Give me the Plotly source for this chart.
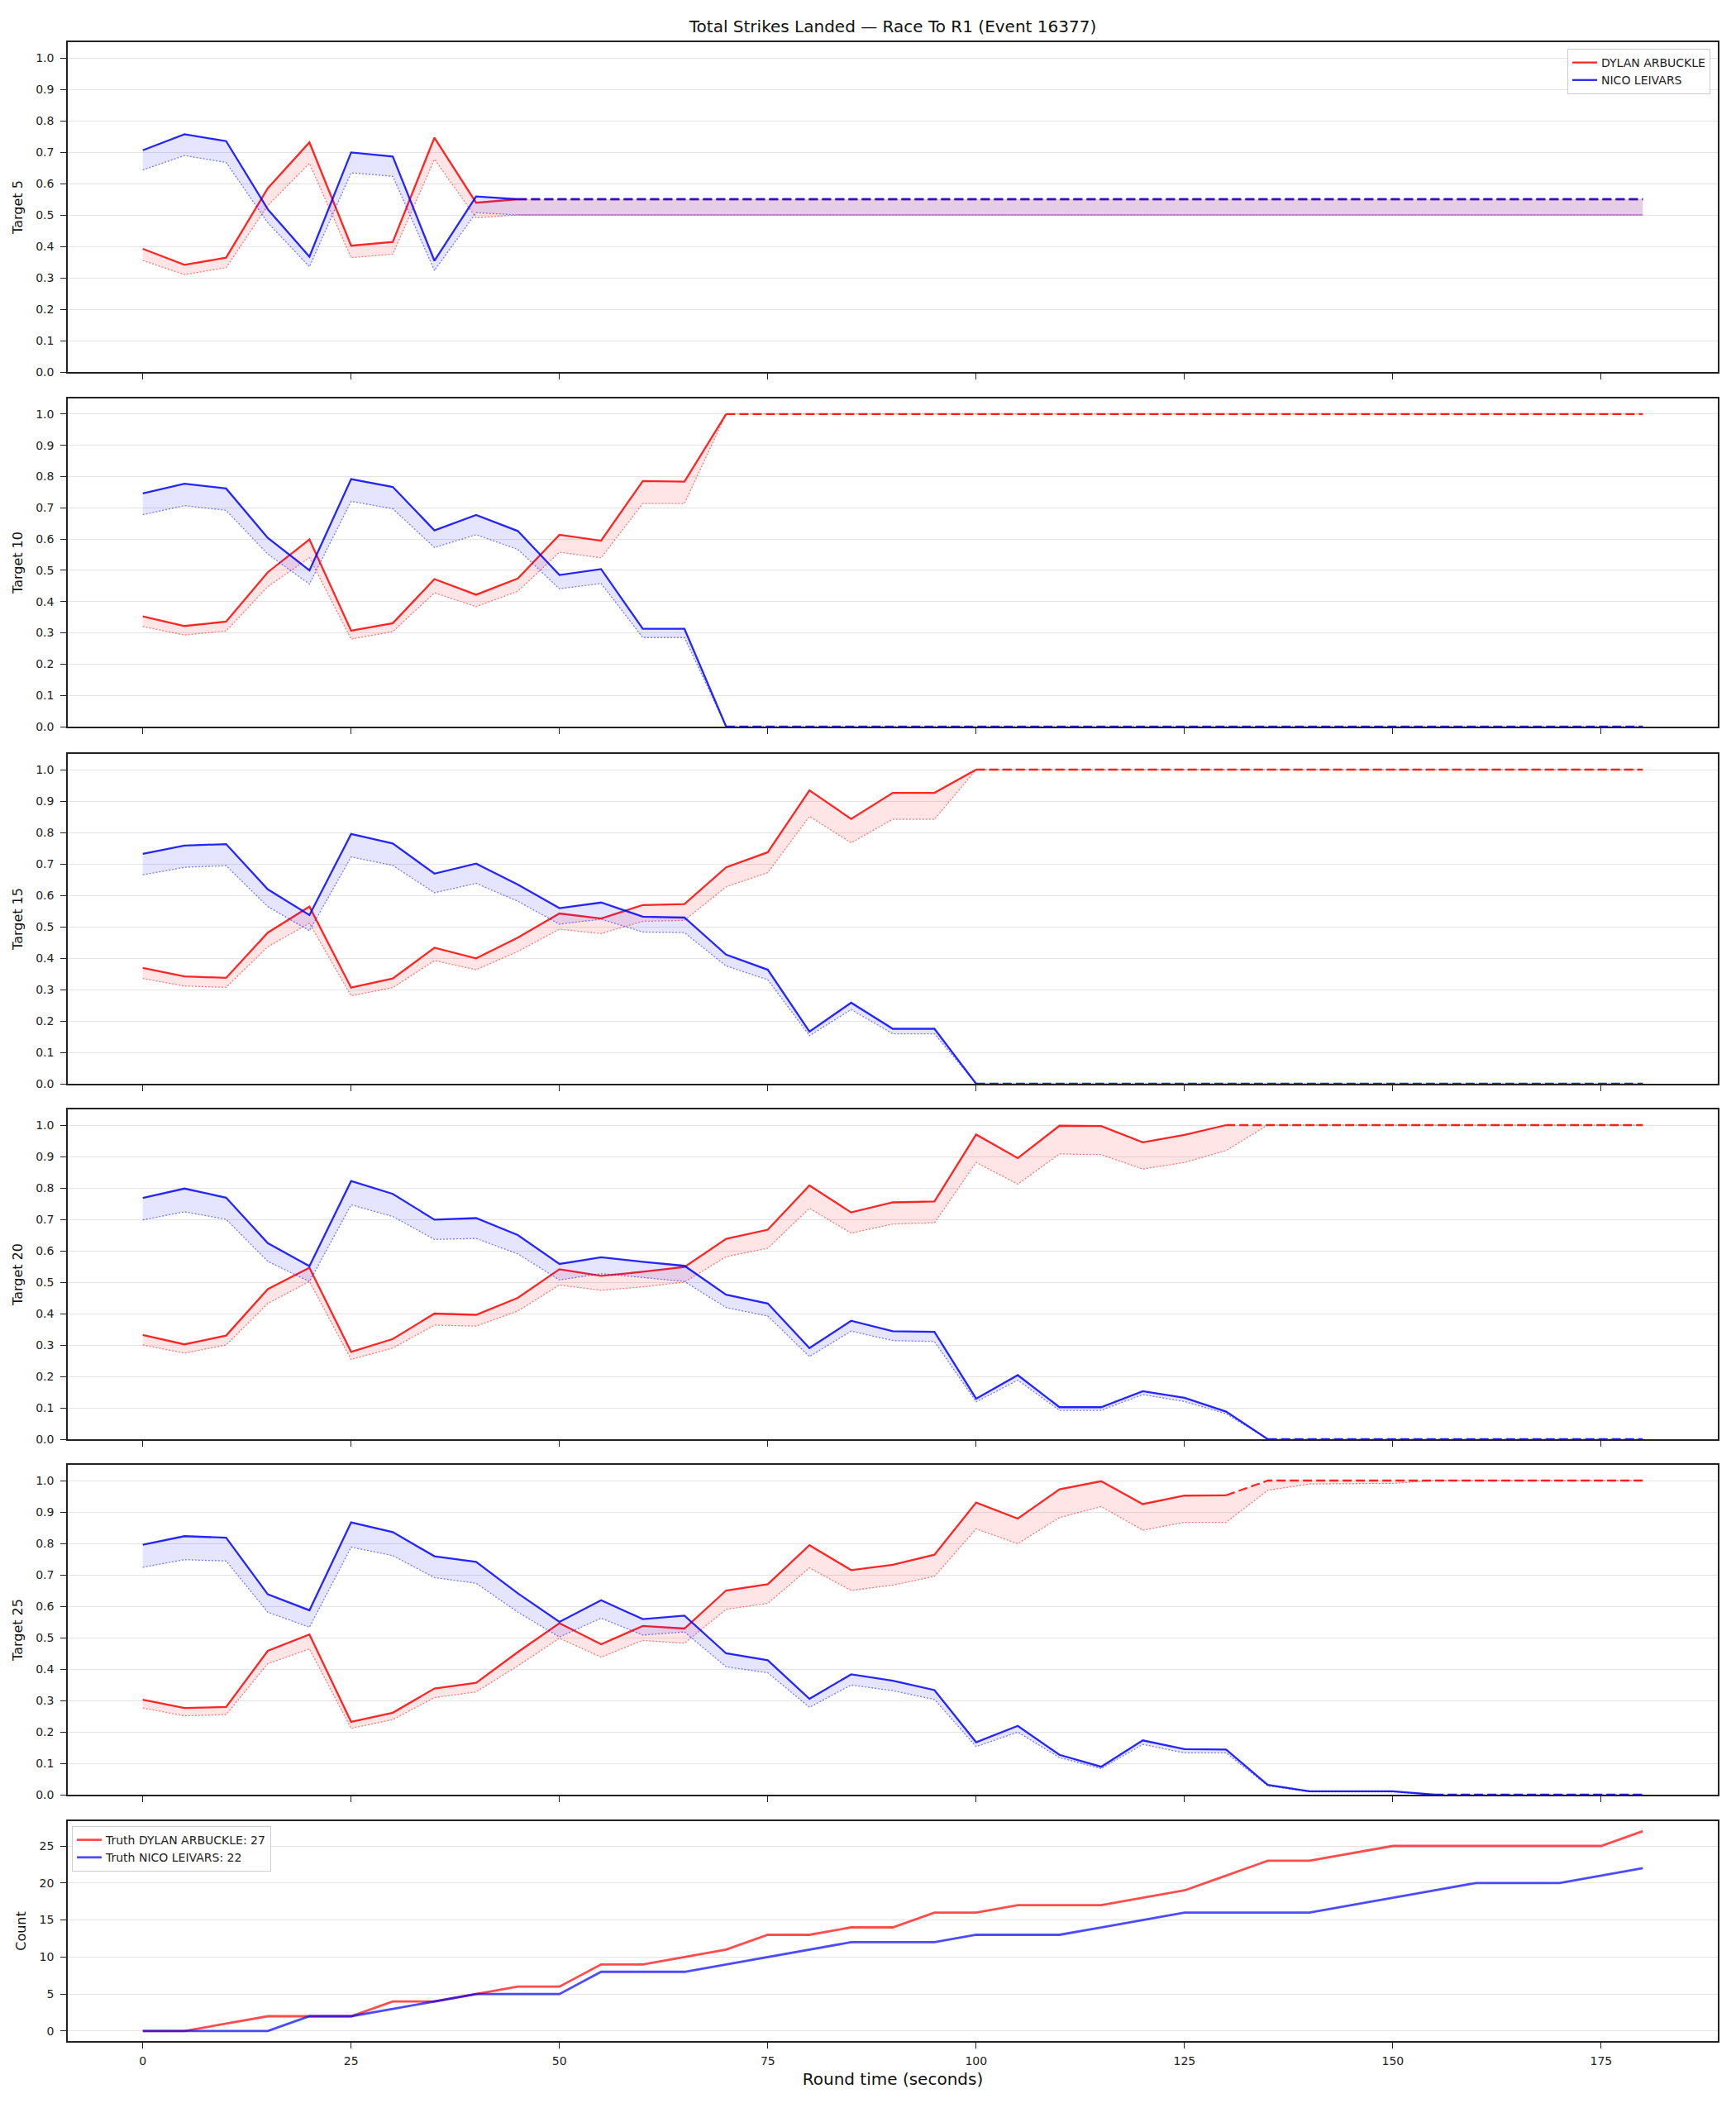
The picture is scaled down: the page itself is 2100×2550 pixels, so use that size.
import plotly.graph_objects as go

# ---------------- data ----------------
times = [0, 5, 10, 15, 20, 25, 30, 35, 40, 45, 50, 55, 60, 65, 70, 75, 80, 85, 90,
         95, 100, 105, 110, 115, 120, 125, 130, 135, 140, 145, 150, 155, 160, 165,
         170, 175, 180]

fighter_names = ["DYLAN ARBUCKLE", "NICO LEIVARS"]
targets = [5, 10, 15, 20, 25]

# Target 5
t5_red_hi = [0.392, 0.341, 0.364, 0.585, 0.731, 0.402, 0.414, 0.746, 0.539,
             0.55, 0.55, 0.55, 0.55, 0.55, 0.55, 0.55, 0.55, 0.55, 0.55, 0.55, 0.55, 0.55, 0.55,
             0.55, 0.55, 0.55, 0.55, 0.55, 0.55, 0.55, 0.55, 0.55, 0.55, 0.55, 0.55, 0.55, 0.55]
t5_red_lo = [0.355, 0.310, 0.332, 0.530, 0.664, 0.364, 0.375, 0.677, 0.491,
             0.50, 0.50, 0.50, 0.50, 0.50, 0.50, 0.50, 0.50, 0.50, 0.50, 0.50, 0.50, 0.50, 0.50,
             0.50, 0.50, 0.50, 0.50, 0.50, 0.50, 0.50, 0.50, 0.50, 0.50, 0.50, 0.50, 0.50, 0.50]
t5_blue_hi = [0.706, 0.757, 0.735, 0.518, 0.367, 0.699, 0.686, 0.354, 0.559,
              0.55, 0.55, 0.55, 0.55, 0.55, 0.55, 0.55, 0.55, 0.55, 0.55, 0.55, 0.55, 0.55, 0.55,
              0.55, 0.55, 0.55, 0.55, 0.55, 0.55, 0.55, 0.55, 0.55, 0.55, 0.55, 0.55, 0.55, 0.55]
t5_blue_lo = [0.643, 0.689, 0.667, 0.475, 0.335, 0.634, 0.623, 0.323, 0.507,
              0.50, 0.50, 0.50, 0.50, 0.50, 0.50, 0.50, 0.50, 0.50, 0.50, 0.50, 0.50, 0.50, 0.50,
              0.50, 0.50, 0.50, 0.50, 0.50, 0.50, 0.50, 0.50, 0.50, 0.50, 0.50, 0.50, 0.50, 0.50]

# Target 10
t10_red_hi = [0.353, 0.322, 0.336, 0.494, 0.599, 0.307, 0.331, 0.472, 0.422, 0.474,
              0.614, 0.595, 0.786, 0.784, 1.0,
              1.0, 1.0, 1.0, 1.0, 1.0, 1.0, 1.0, 1.0, 1.0, 1.0, 1.0,
              1.0, 1.0, 1.0, 1.0, 1.0, 1.0, 1.0, 1.0, 1.0, 1.0, 1.0]
t10_red_lo = [0.320, 0.293, 0.306, 0.448, 0.540, 0.280, 0.304, 0.428, 0.384, 0.433,
              0.558, 0.540, 0.714, 0.714, 1.0,
              1.0, 1.0, 1.0, 1.0, 1.0, 1.0, 1.0, 1.0, 1.0, 1.0, 1.0,
              1.0, 1.0, 1.0, 1.0, 1.0, 1.0, 1.0, 1.0, 1.0, 1.0, 1.0]
t10_blue_hi = [0.746, 0.777, 0.762, 0.604, 0.500, 0.792, 0.767, 0.628, 0.677, 0.626,
               0.485, 0.504, 0.313, 0.313, 0.0,
               0.0, 0.0, 0.0, 0.0, 0.0, 0.0, 0.0, 0.0, 0.0, 0.0, 0.0,
               0.0, 0.0, 0.0, 0.0, 0.0, 0.0, 0.0, 0.0, 0.0, 0.0, 0.0]
t10_blue_lo = [0.678, 0.707, 0.692, 0.552, 0.456, 0.721, 0.697, 0.573, 0.614, 0.567,
               0.441, 0.458, 0.285, 0.285, 0.0,
               0.0, 0.0, 0.0, 0.0, 0.0, 0.0, 0.0, 0.0, 0.0, 0.0, 0.0,
               0.0, 0.0, 0.0, 0.0, 0.0, 0.0, 0.0, 0.0, 0.0, 0.0, 0.0]

# Target 15
t15_red_hi = [0.369, 0.342, 0.337, 0.481, 0.564, 0.306, 0.335, 0.433, 0.399, 0.465,
              0.542, 0.526, 0.569, 0.572, 0.689, 0.737, 0.934, 0.843, 0.926, 0.926, 1.0,
              1.0, 1.0, 1.0, 1.0, 1.0, 1.0, 1.0, 1.0,
              1.0, 1.0, 1.0, 1.0, 1.0, 1.0, 1.0, 1.0]
t15_red_lo = [0.335, 0.311, 0.307, 0.436, 0.511, 0.280, 0.306, 0.392, 0.363, 0.421,
              0.492, 0.478, 0.517, 0.520, 0.627, 0.672, 0.851, 0.767, 0.842, 0.842, 1.0,
              1.0, 1.0, 1.0, 1.0, 1.0, 1.0, 1.0, 1.0,
              1.0, 1.0, 1.0, 1.0, 1.0, 1.0, 1.0, 1.0]
t15_blue_hi = [0.732, 0.758, 0.763, 0.619, 0.537, 0.795, 0.765, 0.669, 0.701, 0.634,
               0.559, 0.577, 0.532, 0.529, 0.411, 0.363, 0.166, 0.258, 0.175, 0.175, 0.0,
               0.0, 0.0, 0.0, 0.0, 0.0, 0.0, 0.0, 0.0,
               0.0, 0.0, 0.0, 0.0, 0.0, 0.0, 0.0, 0.0]
t15_blue_lo = [0.665, 0.689, 0.694, 0.564, 0.487, 0.722, 0.695, 0.608, 0.638, 0.581,
               0.508, 0.524, 0.483, 0.481, 0.375, 0.331, 0.153, 0.236, 0.159, 0.159, 0.0,
               0.0, 0.0, 0.0, 0.0, 0.0, 0.0, 0.0, 0.0,
               0.0, 0.0, 0.0, 0.0, 0.0, 0.0, 0.0, 0.0]

# Target 20
t20_red_hi = [0.332, 0.302, 0.330, 0.478, 0.546, 0.278, 0.319, 0.400, 0.396, 0.450,
              0.541, 0.520, 0.533, 0.548, 0.638, 0.667, 0.808, 0.722, 0.754, 0.757,
              0.970, 0.895, 0.998, 0.997, 0.945, 0.969, 1.0, 1.0,
              1.0, 1.0, 1.0, 1.0, 1.0, 1.0, 1.0, 1.0, 1.0]
t20_red_lo = [0.300, 0.274, 0.300, 0.432, 0.502, 0.254, 0.290, 0.363, 0.360, 0.408,
              0.491, 0.474, 0.485, 0.500, 0.581, 0.608, 0.735, 0.656, 0.685, 0.689,
              0.881, 0.812, 0.908, 0.906, 0.860, 0.881, 0.919, 1.0,
              1.0, 1.0, 1.0, 1.0, 1.0, 1.0, 1.0, 1.0, 1.0]
t20_blue_hi = [0.768, 0.798, 0.769, 0.624, 0.551, 0.822, 0.781, 0.699, 0.704, 0.650,
               0.558, 0.579, 0.565, 0.552, 0.460, 0.432, 0.290, 0.377, 0.344, 0.342,
               0.129, 0.204, 0.102, 0.102, 0.153, 0.132, 0.088, 0.0,
               0.0, 0.0, 0.0, 0.0, 0.0, 0.0, 0.0, 0.0, 0.0]
t20_blue_lo = [0.698, 0.724, 0.700, 0.566, 0.502, 0.746, 0.709, 0.636, 0.639, 0.590,
               0.507, 0.527, 0.515, 0.502, 0.419, 0.392, 0.263, 0.344, 0.314, 0.311,
               0.119, 0.188, 0.092, 0.092, 0.142, 0.120, 0.081, 0.0,
               0.0, 0.0, 0.0, 0.0, 0.0, 0.0, 0.0, 0.0, 0.0]

# Target 25
t25_red_hi = [0.302, 0.276, 0.279, 0.458, 0.510, 0.232, 0.261, 0.338, 0.356, 0.454,
              0.546, 0.479, 0.537, 0.529, 0.650, 0.670, 0.794, 0.715, 0.732, 0.764,
              0.930, 0.879, 0.972, 0.998, 0.925, 0.952, 0.953, 1.0, 1.0, 1.0, 1.0, 1.0,
              1.0, 1.0, 1.0, 1.0, 1.0]
t25_red_lo = [0.276, 0.251, 0.255, 0.417, 0.464, 0.211, 0.239, 0.309, 0.327, 0.410,
              0.498, 0.438, 0.491, 0.482, 0.590, 0.609, 0.722, 0.650, 0.667, 0.695,
              0.846, 0.799, 0.882, 0.917, 0.842, 0.867, 0.867, 0.969, 0.989, 0.990, 0.991, 1.0,
              1.0, 1.0, 1.0, 1.0, 1.0]
t25_blue_hi = [0.796, 0.823, 0.818, 0.638, 0.587, 0.867, 0.836, 0.759, 0.741, 0.641,
               0.550, 0.619, 0.559, 0.570, 0.450, 0.428, 0.305, 0.383, 0.363, 0.333,
               0.167, 0.219, 0.127, 0.089, 0.173, 0.145, 0.144, 0.031, 0.011, 0.011, 0.011, 0.0,
               0.0, 0.0, 0.0, 0.0, 0.0]
t25_blue_lo = [0.724, 0.748, 0.744, 0.581, 0.533, 0.788, 0.761, 0.691, 0.673, 0.581,
               0.502, 0.562, 0.508, 0.518, 0.407, 0.388, 0.278, 0.349, 0.331, 0.303,
               0.153, 0.199, 0.118, 0.083, 0.160, 0.133, 0.133, 0.028, 0.009, 0.009, 0.009, 0.0,
               0.0, 0.0, 0.0, 0.0, 0.0]

# index (into times) from which each fighter's line becomes dashed (settled)
settle_red = [9, 14, 20, 26, 26]
settle_blue = [9, 14, 20, 27, 31]

# Truth counts
truth_red = [0, 0, 1, 2, 2, 2, 4, 4, 5, 6, 6, 9, 9, 10, 11, 13, 13, 14, 14, 16, 16,
             17, 17, 17, 18, 19, 21, 23, 23, 24, 25, 25, 25, 25, 25, 25, 27]
truth_blue = [0, 0, 0, 0, 2, 2, 3, 4, 5, 5, 5, 8, 8, 8, 9, 10, 11, 12, 12, 12, 13,
              13, 13, 14, 15, 16, 16, 16, 16, 17, 18, 19, 20, 20, 20, 21, 22]

x_ticks = [0, 25, 50, 75, 100, 125, 150, 175]
prob_ticks = [0.0, 0.1, 0.2, 0.3, 0.4, 0.5, 0.6, 0.7, 0.8, 0.9, 1.0]
count_ticks = [0, 5, 10, 15, 20, 25]

panel_data = [
    (t5_red_hi, t5_red_lo, t5_blue_hi, t5_blue_lo),
    (t10_red_hi, t10_red_lo, t10_blue_hi, t10_blue_lo),
    (t15_red_hi, t15_red_lo, t15_blue_hi, t15_blue_lo),
    (t20_red_hi, t20_red_lo, t20_blue_hi, t20_blue_lo),
    (t25_red_hi, t25_red_lo, t25_blue_hi, t25_blue_lo),
]
for arrs in panel_data:
    for a in arrs:
        assert len(a) == len(times), len(a)
assert len(truth_red) == len(times) and len(truth_blue) == len(times)

# ---------------- styling ----------------
FONT = "DejaVu Sans"
W, H = 2100, 2550
ML, MR, MT, MB = 82, 22, 51, 81
plot_h = H - MT - MB
bottom_px = H - MB


def py(ypx):
    return (bottom_px - ypx) / plot_h


panel_px = [(51, 450), (482, 879), (912, 1311), (1342, 1741), (1772, 2171), (2203, 2469)]

rgb = {"red": "255,0,0", "blue": "0,0,255"}
line_col = {k: f"rgba({v},0.85)" for k, v in rgb.items()}
dot_col = {k: f"rgba({v},0.5)" for k, v in rgb.items()}
fill_col = {k: f"rgba({v},0.1)" for k, v in rgb.items()}

fig = go.Figure()

for i, tgt in enumerate(targets):
    n = i + 1
    xa = "x" if n == 1 else f"x{n}"
    ya = "y" if n == 1 else f"y{n}"
    red_hi, red_lo, blue_hi, blue_lo = panel_data[i]
    for key, hi, lo, k, name in [("red", red_hi, red_lo, settle_red[i], fighter_names[0]),
                                 ("blue", blue_hi, blue_lo, settle_blue[i], fighter_names[1])]:
        fig.add_trace(go.Scatter(x=times, y=lo, mode="lines", xaxis=xa, yaxis=ya,
                                 line=dict(color=dot_col[key], width=1.3, dash="2px,2px"),
                                 showlegend=False, hoverinfo="skip"))
        fig.add_trace(go.Scatter(x=times, y=hi, mode="lines", xaxis=xa, yaxis=ya,
                                 line=dict(width=0, color=fill_col[key]), fill="tonexty",
                                 fillcolor=fill_col[key], showlegend=False, hoverinfo="skip"))
        fig.add_trace(go.Scatter(x=times[:k + 1], y=hi[:k + 1], mode="lines", xaxis=xa, yaxis=ya,
                                 line=dict(color=line_col[key], width=2.3),
                                 name=name, showlegend=(n == 1), legend="legend"))
        fig.add_trace(go.Scatter(x=times[k:], y=hi[k:], mode="lines", xaxis=xa, yaxis=ya,
                                 line=dict(color=line_col[key], width=2.3, dash="11px,5px"),
                                 showlegend=False))

fig.add_trace(go.Scatter(x=times, y=truth_red, mode="lines", xaxis="x6", yaxis="y6",
                         line=dict(color="rgba(255,0,0,0.7)", width=2.8),
                         name=f"Truth {fighter_names[0]}: {truth_red[-1]}", legend="legend2"))
fig.add_trace(go.Scatter(x=times, y=truth_blue, mode="lines", xaxis="x6", yaxis="y6",
                         line=dict(color="rgba(0,0,255,0.7)", width=2.8),
                         name=f"Truth {fighter_names[1]}: {truth_blue[-1]}", legend="legend2"))

axis_common = dict(showline=True, linecolor="#222222", linewidth=1.6, mirror=True,
                   ticks="outside", ticklen=7, tickwidth=1.3, tickcolor="#222222",
                   tickfont=dict(family=FONT, size=14, color="#222222"), zeroline=False)

layout = dict(
    width=W, height=H,
    margin=dict(l=ML, r=MR, t=MT, b=MB, pad=0),
    paper_bgcolor="white", plot_bgcolor="white",
    font=dict(family=FONT, color="#222222"),
    title=dict(text="Total Strikes Landed — Race To R1 (Event 16377)",
               x=0.5, xref="paper", xanchor="center",
               y=1 - 32 / H, yref="container", yanchor="middle",
               font=dict(family=FONT, size=20, color="#111111")),
    legend=dict(x=(2069 - ML) / (W - ML - MR), xanchor="right", y=py(59), yanchor="top",
                traceorder="normal",
                bgcolor="rgba(255,255,255,0.85)", bordercolor="#cccccc", borderwidth=1,
                font=dict(family=FONT, size=14, color="#222222")),
    legend2=dict(x=(87 - ML) / (W - ML - MR), xanchor="left", y=py(2209), yanchor="top",
                 traceorder="normal",
                 bgcolor="rgba(255,255,255,0.85)", bordercolor="#cccccc", borderwidth=1,
                 font=dict(family=FONT, size=14, color="#222222")),
    showlegend=True,
)

for idx, (top, bot) in enumerate(panel_px):
    n = idx + 1
    xk = "xaxis" if n == 1 else f"xaxis{n}"
    yk = "yaxis" if n == 1 else f"yaxis{n}"
    yid = "y" if n == 1 else f"y{n}"
    xid = "x" if n == 1 else f"x{n}"
    xax = dict(axis_common, anchor=yid, domain=[0, 1], range=[-9, 189],
               tickvals=x_ticks, showgrid=False, showticklabels=(n == 6),
               ticklabelstandoff=3)
    if n == 6:
        xax["title"] = dict(text="Round time (seconds)", standoff=8,
                            font=dict(family=FONT, size=20, color="#111111"))
    yax = dict(axis_common, anchor=xid, domain=[py(bot), py(top)],
               showgrid=True, gridcolor="#e4e4e4", gridwidth=1, ticklabelstandoff=5)
    if n <= 5:
        yax.update(range=[0, 1.05], tickvals=prob_ticks, tickformat=".1f",
                   title=dict(text=f"Target {targets[idx]}", standoff=12,
                              font=dict(family=FONT, size=16, color="#111111")))
    else:
        yax.update(range=[-1.35, 28.35], tickvals=count_ticks,
                   title=dict(text="Count", standoff=12,
                              font=dict(family=FONT, size=16, color="#111111")))
    layout[xk] = xax
    layout[yk] = yax

fig.update_layout(**layout)
fig.write_html("out.html")
